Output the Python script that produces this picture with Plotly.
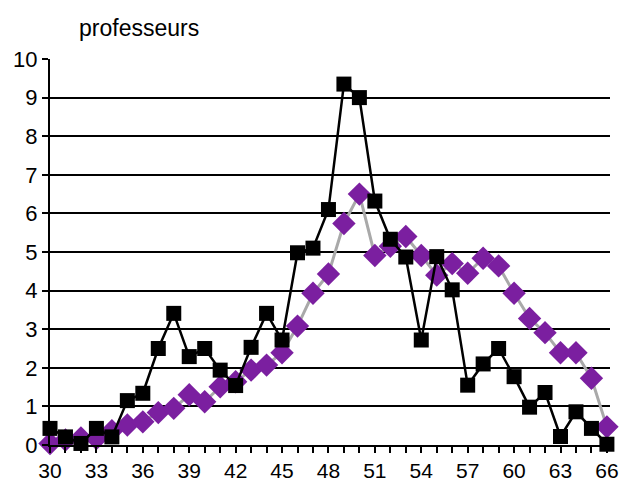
import plotly.graph_objects as go

# Age (years) on the horizontal axis
ages = list(range(30, 67))

# Number of teachers per age: observed (black squares)
observes = [0.43, 0.21, 0.04, 0.43, 0.21, 1.15, 1.34, 2.5, 3.41, 2.29,
            2.5, 1.94, 1.54, 2.53, 3.41, 2.72, 4.98, 5.1, 6.1, 9.35,
            9.0, 6.32, 5.33, 4.87, 2.72, 4.88, 4.02, 1.55, 2.1, 2.5,
            1.77, 0.98, 1.36, 0.22, 0.86, 0.43, 0.02]

# Smoothed / reference distribution (purple diamonds)
lisses = [0.04, 0.13, 0.18, 0.17, 0.37, 0.52, 0.6, 0.84, 0.95, 1.3,
          1.12, 1.51, 1.64, 1.94, 2.07, 2.39, 3.08, 3.93, 4.43, 5.74,
          6.5, 4.91, 5.15, 5.4, 4.91, 4.4, 4.7, 4.45, 4.84, 4.64,
          3.93, 3.28, 2.91, 2.39, 2.39, 1.73, 0.47]

fig = go.Figure()

fig.add_trace(go.Scatter(
    x=ages, y=lisses, mode="lines+markers",
    line=dict(color="#a9a9a9", width=3),
    marker=dict(symbol="diamond", size=18, color="#7b1fa0",
                line=dict(width=0)),
    cliponaxis=False, showlegend=False,
))

fig.add_trace(go.Scatter(
    x=ages, y=observes, mode="lines+markers",
    line=dict(color="#000000", width=2.5),
    marker=dict(symbol="square", size=15, color="#000000",
                line=dict(width=0)),
    cliponaxis=False, showlegend=False,
))

fig.update_layout(
    width=621, height=482,
    margin=dict(l=50, r=11, t=59, b=37),
    paper_bgcolor="white", plot_bgcolor="white",
    font=dict(family="Liberation Sans, Arial, sans-serif", size=22, color="black"),
    annotations=[dict(
        text="professeurs", xref="paper", yref="paper",
        x=0.048, y=1.08, xanchor="left", yanchor="middle",
        showarrow=False, font=dict(size=23),
    )],
)

fig.update_xaxes(
    range=[30, 66.2], tickmode="linear", tick0=30, dtick=3,
    ticks="outside", ticklen=6, tickwidth=2, tickcolor="black",
    tickfont=dict(size=21),
    minor=dict(dtick=1, ticks="outside", ticklen=6, tickwidth=2,
               tickcolor="black", showgrid=False),
    showgrid=False, zeroline=False, automargin=False,
    showline=True, linecolor="black", linewidth=2,
)

fig.update_yaxes(
    range=[0, 10], tickmode="linear", tick0=0, dtick=1,
    ticks="outside", ticklen=6, tickwidth=2, tickcolor="black",
    showgrid=True, gridcolor="black", gridwidth=2,
    zeroline=False, automargin=False,
    showline=True, linecolor="black", linewidth=2,
)

fig.write_html("out.html")
